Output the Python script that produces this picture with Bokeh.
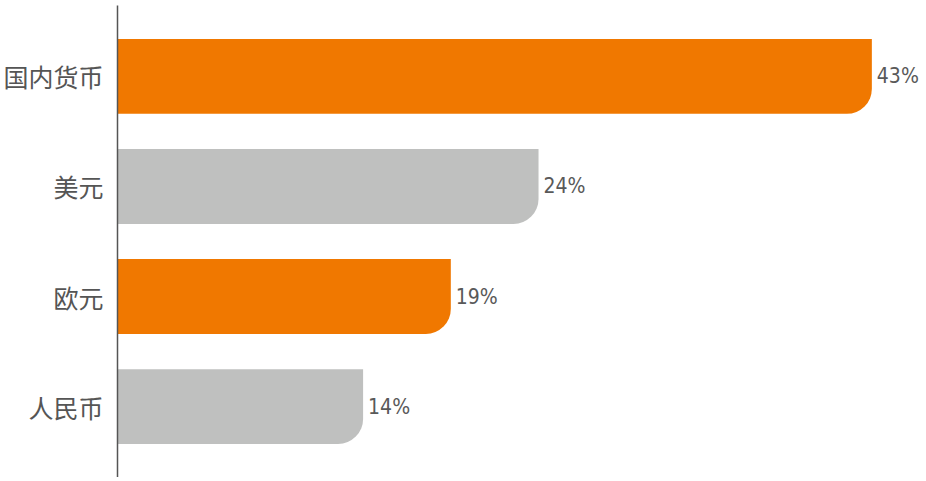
from bokeh.plotting import figure
from bokeh.models import ColumnDataSource, Range1d, FixedTicker
from bokeh.core.properties import value
from bokeh.embed import file_html
from bokeh.resources import INLINE

categories = ["国内货币", "美元", "欧元", "人民币"]
shares = [43, 24, 19, 14]
labels = ["43%", "24%", "19%", "14%"]
colors = ["#F07800", "#BFC0BF", "#F07800", "#BFC0BF"]

ypos = [len(categories) - 1 - i for i in range(len(categories))]
src = ColumnDataSource(dict(y=ypos, v=shares, lab=labels, c=colors))

p = figure(width=921, height=477, output_backend="svg", toolbar_location=None,
           x_range=Range1d(0, 45.83), y_range=Range1d(-0.645, 3.645),
           min_border_left=111, min_border_right=0, min_border_top=5, min_border_bottom=0)
p.outline_line_color = None
p.grid.visible = False
p.xaxis.visible = False
p.background_fill_color = "white"

p.hbar(y="y", left=0, right="v", height=0.68, fill_color="c", line_color=None,
       border_radius=(0, 0, 25, 0), source=src)

p.text(x="v", y="y", text="lab", source=src, x_offset=5, text_baseline="middle",
       text_align="left", text_font=value("DejaVu Sans Condensed"),
       text_font_size="21px", text_color="#595959")

ya = p.yaxis[0]
ya.ticker = FixedTicker(ticks=ypos)
ya.major_label_overrides = {y: c for y, c in zip(ypos, categories)}
ya.major_tick_line_color = None
ya.minor_tick_line_color = None
ya.axis_line_color = "#555555"
ya.axis_line_width = 1.5
ya.major_label_text_font = "Noto Sans CJK SC"
ya.major_label_text_font_size = "25px"
ya.major_label_text_color = "#555555"
ya.major_label_standoff = 8

open("out.html", "w").write(file_html(p, INLINE))
